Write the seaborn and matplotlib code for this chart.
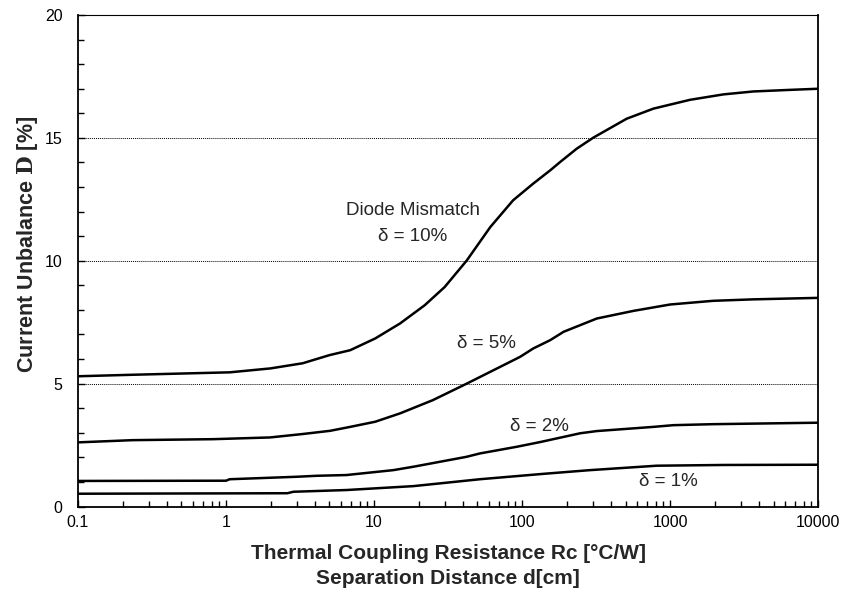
import numpy as np
import pandas as pd
import matplotlib
matplotlib.use("Agg")
import matplotlib.pyplot as plt
import seaborn as sns

# ---- data ----
x_d10 = [0.1, 0.23, 1.06, 2.0, 3.3, 5.0, 6.9, 10.2, 15, 22, 30, 42.3, 61, 87, 119, 155,
         181, 234, 303, 509, 771, 1365, 2291, 3655, 6808, 10000]
y_d10 = [5.30, 5.36, 5.46, 5.62, 5.83, 6.16, 6.36, 6.84, 7.45, 8.19, 8.93, 10.01, 11.37, 12.46,
         13.14, 13.68, 14.02, 14.56, 15.01, 15.78, 16.19, 16.55, 16.77, 16.89, 16.96, 17.0]

x_d5 = [0.1, 0.234, 0.82, 1.98, 3.3, 5.05, 6.9, 10.2, 15, 25, 42.3, 71, 97, 119, 155, 191,
        320, 565, 1000, 1950, 3655, 10000]
y_d5 = [2.61, 2.70, 2.74, 2.81, 2.95, 3.08, 3.24, 3.45, 3.79, 4.33, 5.00, 5.68, 6.09, 6.43,
        6.77, 7.11, 7.65, 7.96, 8.22, 8.37, 8.43, 8.49]

x_d2 = [0.1, 1.0, 1.06, 3.0, 4.1, 6.5, 13.5, 18.5, 42, 52, 92, 132, 247, 320, 771, 1054,
        1950, 10000]
y_d2 = [1.04, 1.05, 1.11, 1.21, 1.25, 1.28, 1.48, 1.62, 2.02, 2.16, 2.43, 2.62, 2.98, 3.07,
        3.24, 3.31, 3.35, 3.41]

x_d1 = [0.1, 2.6, 2.85, 6.5, 18.5, 52, 140, 288, 812, 2291, 10000]
y_d1 = [0.52, 0.54, 0.60, 0.67, 0.83, 1.11, 1.33, 1.48, 1.66, 1.69, 1.70]

series_names = ["d10", "d5", "d2", "d1"]

x_ticks = [0.1, 1, 10, 100, 1000, 10000]
x_tick_labels = ["0.1", "1", "10", "100", "1000", "10000"]
y_ticks = [0, 5, 10, 15, 20]

frames = []
for name, xs, ys in zip(series_names, [x_d10, x_d5, x_d2, x_d1], [y_d10, y_d5, y_d2, y_d1]):
    frames.append(pd.DataFrame({"Rc": xs, "D": ys, "series": name}))
df = pd.concat(frames, ignore_index=True)

sns.set_style("ticks")
plt.rcParams["font.family"] = ["Liberation Sans", "DejaVu Sans"]
plt.rcParams["mathtext.fontset"] = "dejavuserif"

fig = plt.figure(figsize=(8.42, 5.94), dpi=100)
ax = fig.add_axes([0.0926, 0.1473, 0.879, 0.8274])

sns.lineplot(data=df, x="Rc", y="D", hue="series", palette=["black"] * 4,
             linewidth=1.8, legend=False, ax=ax, sort=False, estimator=None)

ax.set_xscale("log")
ax.set_xlim(0.1, 10000)
ax.set_ylim(0, 20)
ax.set_xticks(x_ticks)
ax.set_xticklabels(x_tick_labels)
ax.set_yticks(y_ticks)
ax.yaxis.set_minor_locator(matplotlib.ticker.MultipleLocator(1))
ax.xaxis.set_minor_locator(matplotlib.ticker.LogLocator(base=10, subs=np.arange(2, 10)))
ax.xaxis.set_minor_formatter(matplotlib.ticker.NullFormatter())

ax.tick_params(axis="both", which="both", direction="in", colors="black", labelsize=11.5)
ax.tick_params(axis="both", which="major", length=5, width=1)
ax.tick_params(axis="both", which="minor", length=4, width=1)
ax.tick_params(axis="x", which="major", pad=6)
ax.tick_params(axis="y", which="major", pad=11)

for yv in [5, 10, 15]:
    ax.axhline(yv, color="black", linestyle=(0, (1, 1)), linewidth=0.7, zorder=0)

for side in ["left", "bottom", "right"]:
    ax.spines[side].set_color("black")
    ax.spines[side].set_linewidth(1.3)
ax.spines["top"].set_linestyle((0, (1, 1)))
ax.spines["top"].set_linewidth(0.8)
ax.spines["top"].set_color("black")

ax.set_xlabel("Thermal Coupling Resistance Rc [°C/W]\nSeparation Distance d[cm]",
              fontsize=15, fontweight="bold", linespacing=1.45, labelpad=10)
ax.set_ylabel(r"Current Unbalance $\mathbf{D}$ [%]", fontsize=15.5, fontweight="bold")
ax.yaxis.set_label_coords(-0.051, 0.533)

ax.text(18.2, 12.05, "Diode Mismatch", ha="center", va="center", fontsize=13.5)
ax.text(18.2, 10.97, "δ = 10%", ha="center", va="center", fontsize=13.5)
ax.text(57.7, 6.63, "δ = 5%", ha="center", va="center", fontsize=13.5)
ax.text(132, 3.24, "δ = 2%", ha="center", va="center", fontsize=13.5)
ax.text(975, 1.01, "δ = 1%", ha="center", va="center", fontsize=13.5)

fig.savefig("out.png", dpi=100)
